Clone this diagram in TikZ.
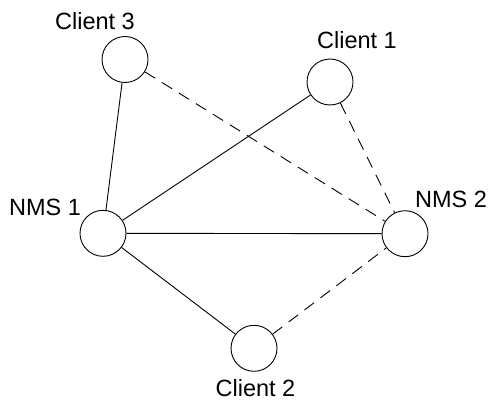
\documentclass[tikz,border=0pt]{standalone}
\usepackage{fontspec}
\setmainfont{Liberation Sans}
\begin{document}
\begin{tikzpicture}[x=1pt,y=-1pt,
  station/.style={circle,draw,line width=0.9pt,minimum size=46pt,inner sep=0pt},
  tag/.style={inner sep=0pt,font=\fontsize{23.5}{27}\selectfont},
  link/.style={line width=0.9pt},
  backup/.style={line width=0.9pt,dash pattern=on 12pt off 8pt}]
\useasboundingbox (0,0) rectangle (489,401);
\node[station] (c3) at (125,59.5) {};
\node[station] (c1) at (330,82) {};
\node[station] (n1) at (103,233.3) {};
\node[station] (n2) at (405,233.7) {};
\node[station] (c2) at (254,348.3) {};
\node[tag] (lc3) at (95,21) {Client 3};
\node[tag] (lc1) at (357,40.5) {Client 1};
\node[tag] (ln1) at (45,207.7) {NMS 1};
\node[tag] (ln2) at (451,199.5) {NMS 2};
\node[tag] (lc2) at (255.5,388.5) {Client 2};
\draw[link] (c3) -- (n1);
\draw[link] (c1) -- (n1);
\draw[link] (n1) -- (n2);
\draw[link] (n1) -- (c2);
\draw[backup] (c3) -- (n2);
\draw[backup] (c1) -- (n2);
\draw[backup] (c2) -- (n2);
\end{tikzpicture}
\end{document}
